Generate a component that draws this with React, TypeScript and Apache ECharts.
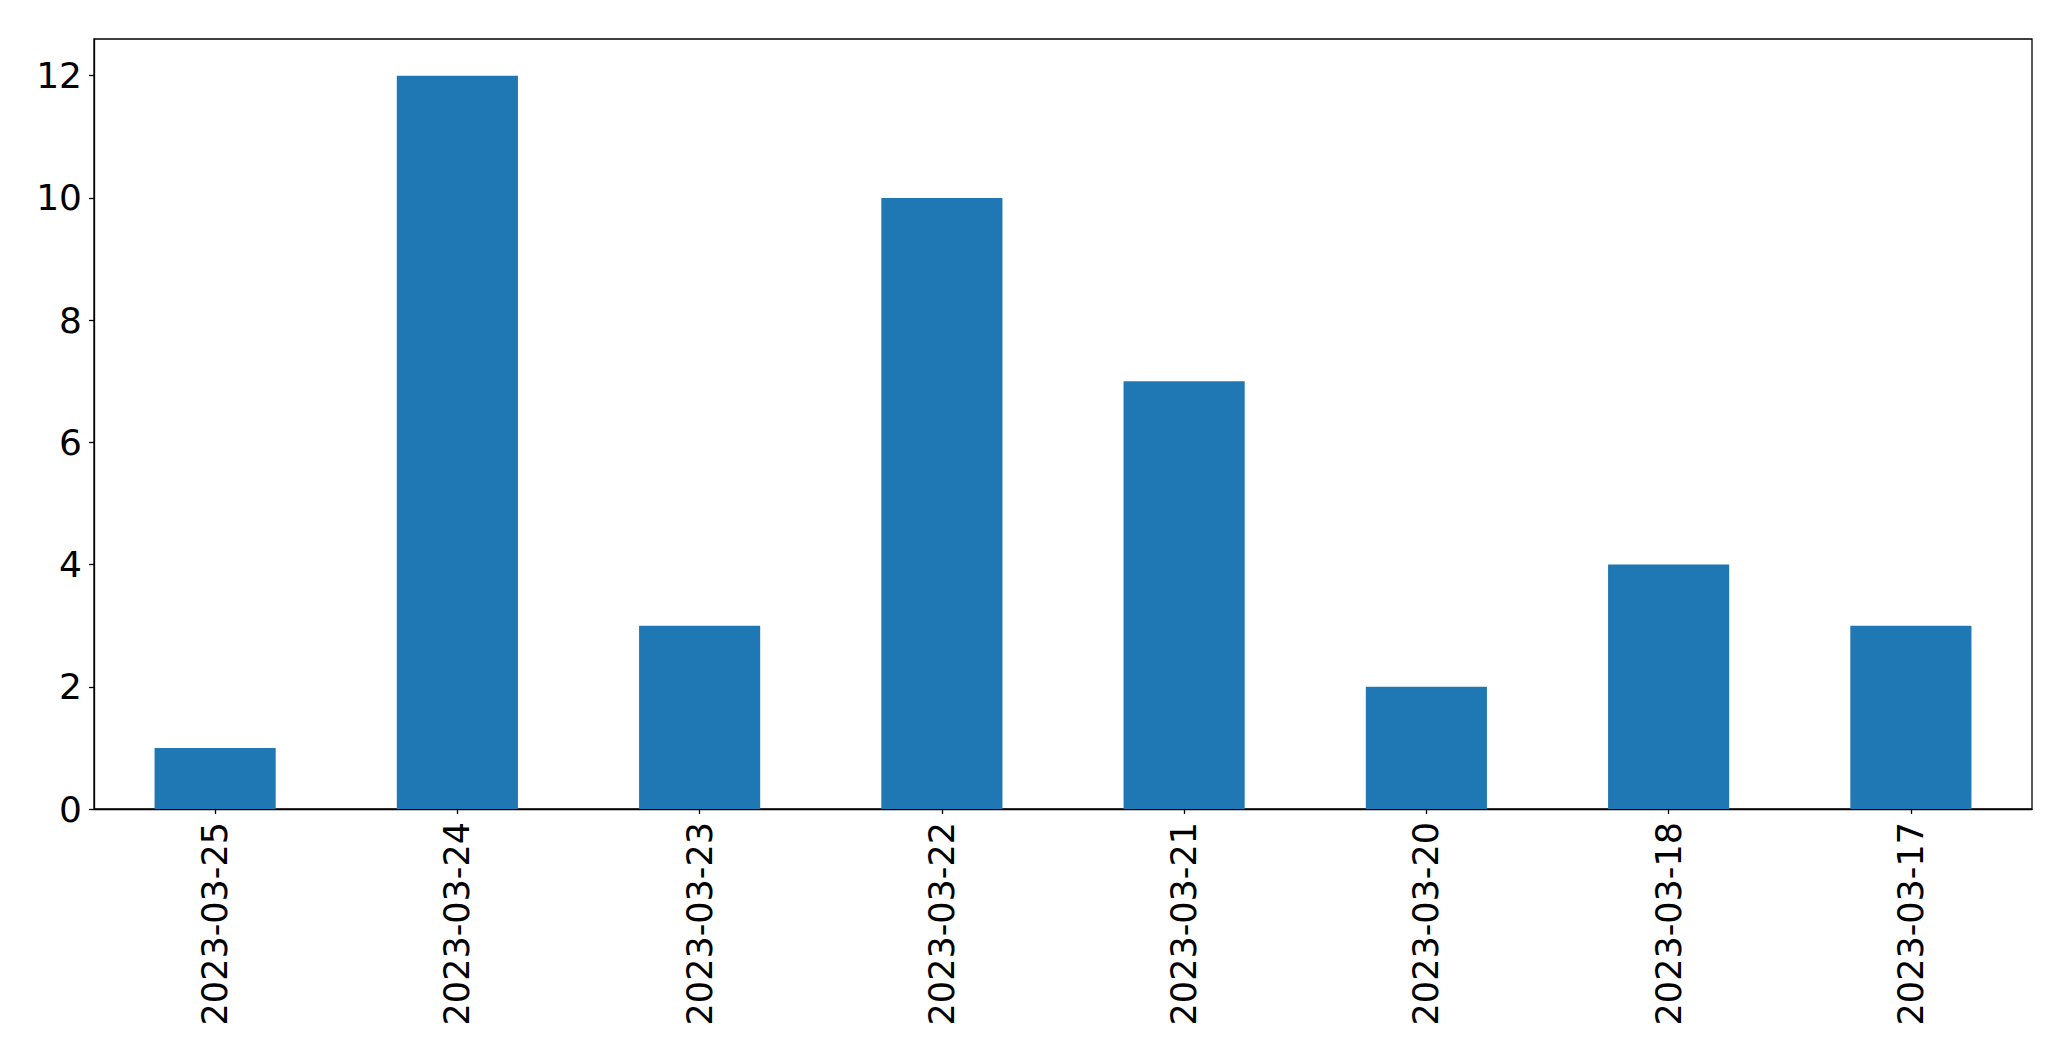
import React, { useEffect, useRef } from "react";
import * as echarts from "echarts";

const categories = [
  "2023-03-25",
  "2023-03-24",
  "2023-03-23",
  "2023-03-22",
  "2023-03-21",
  "2023-03-20",
  "2023-03-18",
  "2023-03-17",
];
const counts = [1, 12, 3, 10, 7, 2, 4, 3];
const yTicks = [0, 2, 4, 6, 8, 10, 12];
const yMax = 12.6;

export default function App() {
  const ref = useRef<HTMLDivElement>(null);
  useEffect(() => {
    document.body.style.margin = "0";
    const chart = echarts.init(ref.current!, null, { renderer: "svg" });
    const font = "DejaVu Sans";
    chart.setOption({
      animation: false,
      backgroundColor: "#ffffff",
      grid: {
        left: 94,
        right: 39,
        top: 39,
        bottom: 252,
        show: true,
        borderColor: "#000000",
        borderWidth: 1.3,
        backgroundColor: "transparent",
      },
      xAxis: {
        type: "category",
        data: categories,
        boundaryGap: true,
        axisLine: { show: true, lineStyle: { color: "#000000", width: 1.3 } },
        axisTick: {
          show: true,
          alignWithLabel: true,
          length: 5,
          lineStyle: { color: "#000000", width: 1.3 },
        },
        axisLabel: {
          rotate: 90,
          margin: 13,
          interval: 0,
          color: "#000000",
          fontFamily: font,
          fontSize: 35,
        },
        splitLine: { show: false },
      },
      yAxis: {
        type: "value",
        min: 0,
        max: yMax,
        interval: 2,
        axisLine: { show: true, lineStyle: { color: "#000000", width: 1.3 } },
        axisTick: {
          show: true,
          length: 5,
          customValues: yTicks,
          lineStyle: { color: "#000000", width: 1.3 },
        },
        axisLabel: {
          margin: 12,
          color: "#000000",
          fontFamily: font,
          fontSize: 36,
          customValues: yTicks,
        },
        splitLine: { show: false },
      },
      series: [
        {
          type: "bar",
          data: counts,
          barWidth: "50%",
          itemStyle: { color: "#1f77b4" },
        },
      ],
    });
    return () => chart.dispose();
  }, []);
  return (
    <div
      ref={ref}
      style={{ position: "fixed", left: 0, top: 0, width: 2071, height: 1061 }}
    />
  );
}
